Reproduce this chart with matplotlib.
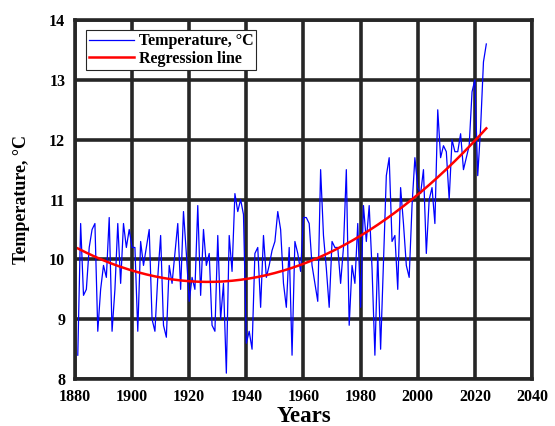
import numpy as np
import matplotlib
matplotlib.use('Agg')
import matplotlib.pyplot as plt

# annual mean temperature
years = np.arange(1881, 2025)
temp_1881_1900 = [8.4, 10.6, 9.4, 9.5, 10.2, 10.5, 10.6, 8.8, 9.5, 9.9,
                  9.7, 10.7, 8.8, 9.5, 10.6, 9.6, 10.6, 10.2, 10.5, 10.2]
temp_1901_1920 = [10.2, 8.8, 10.3, 9.9, 10.2, 10.5, 9.0, 8.8, 9.7, 10.4,
                  8.9, 8.7, 9.9, 9.6, 10.1, 10.6, 9.5, 10.8, 10.1, 9.3]
temp_1921_1940 = [9.7, 9.5, 10.9, 9.4, 10.5, 9.9, 10.1, 8.9, 8.8, 10.4,
                  9.0, 9.6, 8.1, 10.4, 9.8, 11.1, 10.8, 11.0, 10.75, 8.6]
temp_1941_1960 = [8.8, 8.5, 10.1, 10.2, 9.2, 10.4, 9.7, 9.9, 10.15, 10.3,
                  10.8, 10.5, 9.6, 9.2, 10.2, 8.4, 10.3, 10.1, 9.8, 10.7]
temp_1961_1980 = [10.7, 10.6, 9.9, 9.6, 9.3, 11.5, 10.4, 9.85, 9.2, 10.3,
                  10.2, 10.2, 9.6, 10.2, 11.5, 8.9, 9.9, 9.6, 10.6, 9.2]
temp_1981_2000 = [10.9, 10.3, 10.9, 9.85, 8.4, 10.1, 8.5, 9.97, 11.4, 11.7,
                  10.3, 10.4, 9.5, 11.2, 10.6, 9.9, 9.7, 10.9, 11.7, 11.2]
temp_2001_2024 = [11.1, 11.5, 10.1, 11.0, 11.2, 10.6, 12.5, 11.7, 11.9, 11.8,
                  11.0, 12.0, 11.8, 11.8, 12.1, 11.5, 11.7, 11.9, 12.8, 13.0,
                  11.4, 12.2, 13.3, 13.6]
temp = np.array(temp_1881_1900 + temp_1901_1920 + temp_1921_1940 + temp_1941_1960
                + temp_1961_1980 + temp_1981_2000 + temp_2001_2024)

xticks = [1880, 1900, 1920, 1940, 1960, 1980, 2000, 2020, 2040]
yticks = [8, 9, 10, 11, 12, 13, 14]

# quadratic regression
coef = np.polyfit(years, temp, 2)
trend = np.polyval(coef, years)

plt.rcParams['font.family'] = ['Liberation Serif', 'DejaVu Serif']
plt.rcParams['font.weight'] = 'bold'

fig = plt.figure(figsize=(5.55, 4.26), dpi=100)
ax = fig.add_axes([0.135, 0.110, 0.8236, 0.843])

ax.plot(years, temp, color='blue', linewidth=0.9, label='Temperature, °C')
ax.plot(years, trend, color='red', linewidth=1.8, label='Regression line')

ax.set_xlim(1880, 2040)
ax.set_ylim(8, 14)
ax.set_xticks(xticks)
ax.set_yticks(yticks)
ax.grid(True, color='#262626', linewidth=2.6)
ax.set_axisbelow(True)
for s in ax.spines.values():
    s.set_linewidth(2.6)
    s.set_color('#262626')
ax.tick_params(length=0, labelsize=11.5, pad=7)
for lab in ax.get_xticklabels() + ax.get_yticklabels():
    lab.set_fontweight('bold')

ax.set_xlabel('Years', fontsize=16.5, fontweight='bold', va='baseline')
ax.xaxis.set_label_coords(0.5, -0.118)
ax.set_ylabel('Temperature, °C', fontsize=13, fontweight='bold', va='center')
ax.yaxis.set_label_coords(-0.116, 0.5)

leg = ax.legend(loc='upper left', bbox_to_anchor=(0.024, 0.972), fancybox=False,
                framealpha=1, edgecolor='#262626', prop={'weight': 'bold', 'size': 11.5},
                handlelength=2.8, borderpad=0.2, labelspacing=0.1, handletextpad=0.3,
                borderaxespad=0)
leg.get_frame().set_linewidth(0.8)

fig.savefig('out.png', dpi=100)
